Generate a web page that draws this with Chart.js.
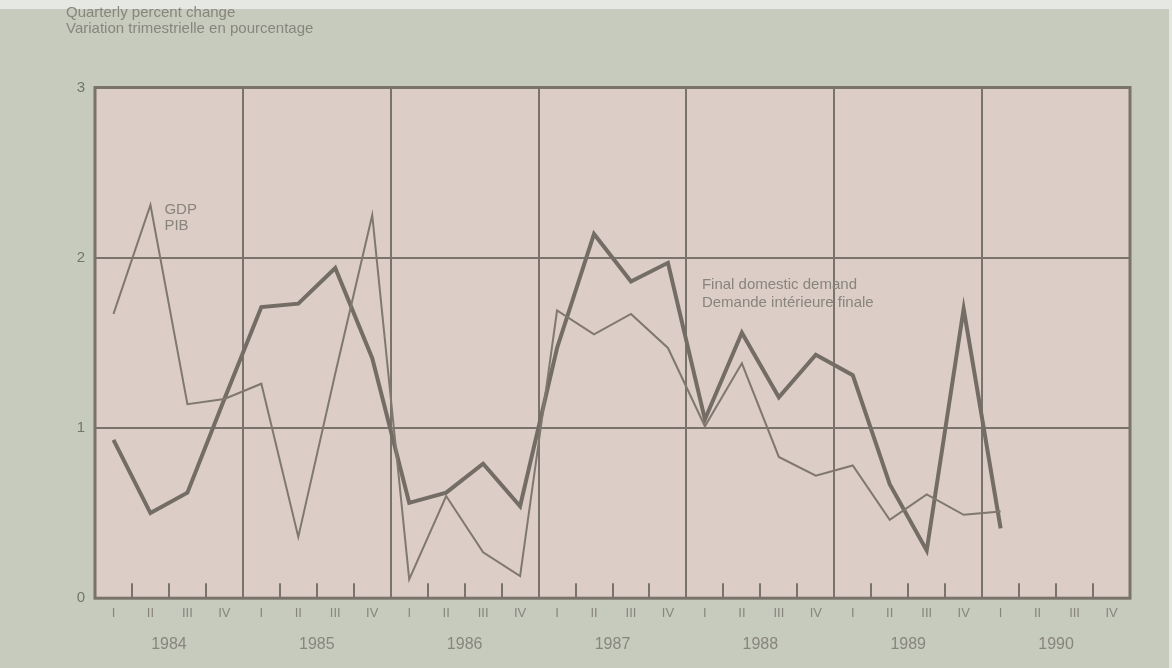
<!DOCTYPE html>
<html>
<head>
<meta charset="utf-8">
<script src="https://cdn.jsdelivr.net/npm/chart.js@4"></script>
<style>
    html, body { margin: 0; padding: 0; }
    body {
        width: 1172px; height: 668px; overflow: hidden;
        background:
            linear-gradient(to left, #e4e7e1 0 3px, transparent 3px),
            linear-gradient(#e6e9e3 0 9px, #c6cbbd 9px);
    }
    #wrap { position: relative; width: 1172px; height: 668px; }
</style>
</head>
<body>
<div id="wrap"><canvas id="gdpChart" width="1172" height="668"></canvas></div>
<script>
// Quarter labels and years
const years = ['1984', '1985', '1986', '1987', '1988', '1989', '1990'];
const quarterNames = ['I', 'II', 'III', 'IV'];
const quarters = years.flatMap(() => quarterNames);

// Quarterly percent change (null = no data yet)
const gdp = [
    1.67, 2.31, 1.14, 1.17,
    1.26, 0.36, 1.32, 2.25,
    0.11, 0.60, 0.27, 0.13,
    1.69, 1.55, 1.67, 1.47,
    1.01, 1.38, 0.83, 0.72,
    0.78, 0.46, 0.61, 0.49,
    0.51, null, null, null
];
const finalDomesticDemand = [
    0.93, 0.50, 0.62, 1.17,
    1.71, 1.73, 1.94, 1.41,
    0.56, 0.62, 0.79, 0.54,
    1.47, 2.14, 1.86, 1.97,
    1.05, 1.56, 1.18, 1.43,
    1.31, 0.67, 0.28, 1.70,
    0.41, null, null, null
];
const yTicks = [0, 1, 2, 3];

const INK = '#79736b';
const TEXT = '#88857d';
const FONT = '"Liberation Sans", Arial, sans-serif';

// pink plot background + frame + quarter tick marks + series labels
const plotDecor = {
    id: 'plotDecor',
    beforeDraw(chart) {
        const { ctx, chartArea: a } = chart;
        ctx.save();
        ctx.fillStyle = '#dccdc6';
        ctx.fillRect(a.left, a.top, a.right - a.left, a.bottom - a.top);
        ctx.restore();
    },
    afterDatasetsDraw(chart) {
        const { ctx, chartArea: a, scales } = chart;
        const xs = scales.x, ys = scales.y;
        ctx.save();
        // quarter ticks along the bottom
        ctx.strokeStyle = INK;
        ctx.lineWidth = 2;
        for (let i = 1; i < quarters.length; i++) {
            if (i % 4 === 0) continue;
            const x = Math.round((xs.getPixelForValue(i - 1) + xs.getPixelForValue(i)) / 2);
            ctx.beginPath();
            ctx.moveTo(x, a.bottom);
            ctx.lineTo(x, a.bottom - 15);
            ctx.stroke();
        }
        // frame
        ctx.lineWidth = 3;
        ctx.strokeRect(a.left, a.top, a.right - a.left, a.bottom - a.top);

        // series labels
        ctx.fillStyle = TEXT;
        ctx.font = '15px ' + FONT;
        ctx.textBaseline = 'middle';
        let x = xs.getPixelForValue(1) + 14;
        let y = ys.getPixelForValue(2.28);
        ctx.fillText('GDP', x, y);
        ctx.fillText('PIB', x, y + 16);
        x = xs.getPixelForValue(16) - 3;
        y = ys.getPixelForValue(1.84);
        ctx.fillText('Final domestic demand', x, y);
        ctx.fillText('Demande intérieure finale', x, y + 18);
        ctx.restore();
    }
};

new Chart(document.getElementById('gdpChart'), {
    type: 'line',
    data: {
        labels: quarters,
        datasets: [
            {
                label: 'GDP / PIB',
                data: gdp,
                borderColor: '#7f786f',
                borderWidth: 2,
                pointRadius: 0,
                tension: 0
            },
            {
                label: 'Final domestic demand / Demande intérieure finale',
                data: finalDomesticDemand,
                borderColor: '#746d66',
                borderWidth: 4,
                pointRadius: 0,
                tension: 0
            }
        ]
    },
    options: {
        responsive: false,
        animation: false,
        layout: { padding: { left: 66, right: 42, top: 0, bottom: 7 } },
        plugins: {
            legend: { display: false },
            tooltip: { enabled: false },
            title: {
                display: true,
                align: 'start',
                text: ['Quarterly percent change', 'Variation trimestrielle en pourcentage'],
                color: TEXT,
                font: { family: FONT, size: 15, weight: 'normal', lineHeight: 1.05 },
                padding: { top: 5, bottom: 51 }
            }
        },
        scales: {
            x: {
                type: 'category',
                offset: true,
                grid: {
                    offset: true,
                    drawTicks: false,
                    lineWidth: 2,
                    color: ctx => (ctx.index % 4 === 0 ? INK : 'transparent')
                },
                border: { display: false },
                ticks: {
                    color: TEXT,
                    padding: 7,
                    maxRotation: 0,
                    autoSkip: false,
                    font: { family: FONT, size: 13 }
                }
            },
            years: {
                type: 'category',
                position: 'bottom',
                labels: years,
                offset: true,
                grid: { display: false, drawTicks: false },
                border: { display: false },
                ticks: {
                    color: TEXT,
                    padding: 7,
                    maxRotation: 0,
                    font: { family: FONT, size: 16 }
                }
            },
            y: {
                min: 0,
                max: 3,
                afterBuildTicks: scale => { scale.ticks = yTicks.map(v => ({ value: v })); },
                afterFit: scale => { scale.width = 29; },
                grid: {
                    drawTicks: false,
                    lineWidth: 2,
                    color: INK
                },
                border: { display: false },
                ticks: {
                    color: '#6f786b',
                    padding: 10,
                    font: { family: FONT, size: 15 }
                }
            }
        }
    },
    plugins: [plotDecor]
});
</script>
</body>
</html>
